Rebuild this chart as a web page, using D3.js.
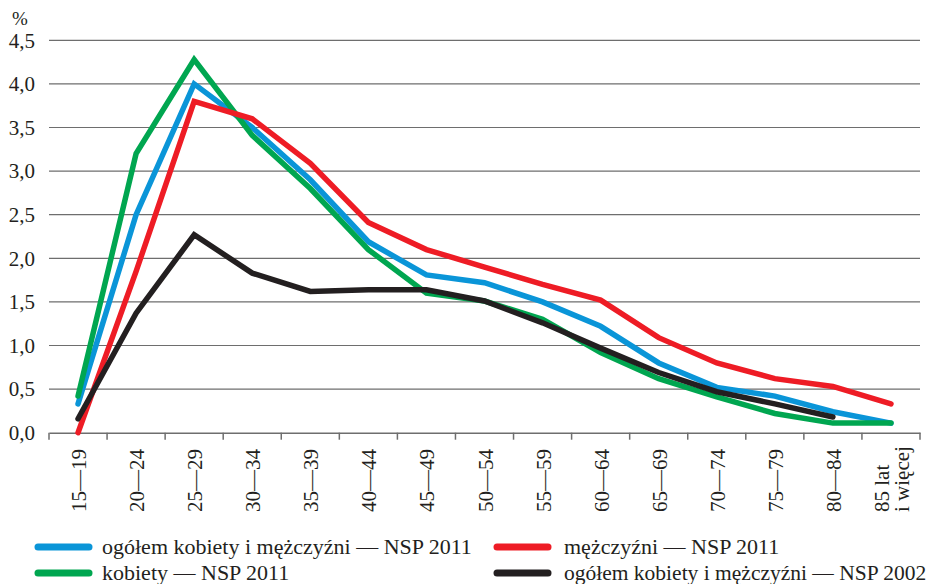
<!DOCTYPE html>
<html><head><meta charset="utf-8">
<script src="https://cdn.jsdelivr.net/npm/d3@7"></script>
<style>
body{margin:0;background:#fff;}
svg{display:block;font-family:"Liberation Serif","Times New Roman",serif;}
</style></head>
<body>
<svg id="chart" width="937" height="584"></svg>
<script>
const categories = ["15—19","20—24","25—29","30—34","35—39","40—44","45—49","50—54","55—59","60—64","65—69","70—74","75—79","80—84","85 lat|i więcej"];
const yTicks = [0,0.5,1,1.5,2,2.5,3,3.5,4,4.5];
const ogolem2011 = [0.33,2.5,4.0,3.5,2.9,2.19,1.81,1.72,1.5,1.22,0.8,0.52,0.42,0.24,0.11];
const mezczyzni2011 = [0.0,1.85,3.8,3.6,3.09,2.41,2.1,1.9,1.7,1.52,1.09,0.8,0.62,0.53,0.33];
const kobiety2011 = [0.42,3.2,4.28,3.41,2.8,2.1,1.6,1.51,1.3,0.92,0.62,0.41,0.22,0.11,0.11];
const ogolem2002 = [0.16,1.37,2.27,1.83,1.62,1.64,1.64,1.51,1.26,0.97,0.69,0.47,0.33,0.18,null];
const seriesNames = ["ogółem kobiety i mężczyźni — NSP 2011","mężczyźni — NSP 2011","kobiety — NSP 2011","ogółem kobiety i mężczyźni — NSP 2002"];
const seriesColors = ["#0a95d8","#ee1c25","#00a650","#231f20"];

(function(){
const svg = d3.select("#chart");
const mLeft = 49, mRight = 920, mTop = 40.3, mBottom = 432.7;
const x = d3.scaleBand().domain(categories).range([mLeft,mRight]).padding(0);
const y = d3.scaleLinear().domain([0,4.5]).range([mBottom,mTop]);
const cx = c => x(c) + x.bandwidth()/2;

// gridlines
svg.append("g").selectAll("line").data(yTicks.filter(t=>t>0)).join("line")
  .attr("x1",mLeft).attr("x2",mRight).attr("y1",d=>y(d)).attr("y2",d=>y(d))
  .attr("stroke","#6e6e6e").attr("stroke-width",1.2);

// y axis labels
const fmt = d => d3.format(".1f")(d).replace(".",",");
svg.append("g").selectAll("text").data(yTicks).join("text")
  .attr("x",35).attr("y",d=>y(d)).attr("dy","0.35em").attr("text-anchor","end")
  .attr("font-size",21).attr("fill","#231f20").text(fmt);
svg.append("text").attr("x",12).attr("y",25).attr("font-size",19).attr("fill","#231f20").text("%");

// x axis
const xAxis = d3.axisBottom(x).tickSize(0).tickFormat("");
const gx = svg.append("g").attr("transform",`translate(0,${mBottom})`).call(xAxis);
gx.select(".domain").attr("stroke","#6e6e6e").attr("stroke-width",1.5);
const bounds = categories.map(c=>x(c)).concat([mRight]);
gx.selectAll("line.tk").data(bounds).join("line").attr("class","tk")
  .attr("x1",d=>d).attr("x2",d=>d).attr("y1",0).attr("y2",7)
  .attr("stroke","#6e6e6e").attr("stroke-width",1.5);

// x labels rotated
const lab = svg.append("g");
categories.forEach(c=>{
  const lines = c.split("|");
  const n = lines.length;
  lines.forEach((ln,i)=>{
    const off = (i - (n-1)/2) * 20;
    lab.append("text")
      .attr("transform",`translate(${cx(c)+off+8},512) rotate(-90)`)
      .attr("text-anchor","start").attr("font-size",21).attr("fill","#231f20")
      .text(ln);
  });
});

// lines
const data = [ogolem2011, mezczyzni2011, kobiety2011, ogolem2002];
const lineGen = d3.line().defined(d=>d.v!=null).x(d=>cx(d.c)).y(d=>y(d.v));
const order = [0,2,1,3];
order.forEach(k=>{
  const pts = categories.map((c,i)=>({c, v:data[k][i]}));
  svg.append("path").datum(pts).attr("d",lineGen)
    .attr("fill","none").attr("stroke",seriesColors[k]).attr("stroke-width",5.5)
    .attr("stroke-linecap","round").attr("stroke-linejoin","miter");
});

// legend
const legPos = [[35,547],[494,547],[35,573],[494,573]];
seriesNames.forEach((name,i)=>{
  const [lx,ly] = legPos[i];
  svg.append("line").attr("x1",lx+3).attr("x2",lx+54).attr("y1",ly).attr("y2",ly)
    .attr("stroke",seriesColors[i]).attr("stroke-width",7).attr("stroke-linecap","round");
  svg.append("text").attr("x",lx + (i%2===0?67:70)).attr("y",ly).attr("dy","0.33em")
    .attr("font-size",(i===3?21.5:22)).attr("fill","#231f20").text(name);
});
})();
</script>
</body></html>
